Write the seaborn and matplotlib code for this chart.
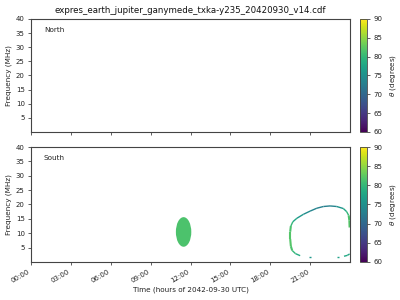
import numpy as np
import matplotlib
matplotlib.use("Agg")
import matplotlib.pyplot as plt
from matplotlib.collections import LineCollection
from matplotlib.patches import Ellipse
import seaborn as sns

# ---------------- data ----------------
title = "expres_earth_jupiter_ganymede_txka-y235_20420930_v14.cdf"
hemispheres = ["North", "South"]
xtick_hours = [0, 3, 6, 9, 12, 15, 18, 21]
xtick_labels = ["00:00", "03:00", "06:00", "09:00", "12:00", "15:00", "18:00", "21:00"]
ytick_freqs = [5, 10, 15, 20, 25, 30, 35, 40]
cbar_ticks = [60, 65, 70, 75, 80, 85, 90]

# South: compact emission blob (centre time h, centre freq MHz, half-width h, half-height MHz, theta deg)
blob_time, blob_freq = 11.48, 10.45
blob_halfwidth, blob_halfheight = 0.58, 5.15
blob_theta = 81.5

# South: arc-shaped emission (time h, freq MHz, theta deg, segment id)
arc_time = [20.25, 19.9, 19.65, 19.55, 19.5, 19.5, 19.55, 19.7, 20.0, 20.5, 21.0, 21.5,
            22.0, 22.5, 23.0, 23.5, 23.75, 23.9, 23.95, 23.97,
            20.9, 21.05,
            23.05, 23.2,
            23.55, 23.8, 23.97]
arc_freq = [2.2, 2.9, 4.0, 5.5, 8.0, 10.5, 12.5, 14.0, 15.2, 16.6, 17.7, 18.7,
            19.3, 19.5, 19.3, 18.6, 17.5, 16.2, 14.5, 12.0,
            1.7, 1.7,
            1.7, 1.7,
            2.0, 2.3, 2.8]
arc_theta = [78, 79, 81, 82, 82, 82, 81, 79, 77, 75, 74, 73,
             73, 73, 74, 77, 79, 81, 82, 82,
             76, 76,
             77, 77,
             78, 78, 78]
arc_seg = [0] * 20 + [1] * 2 + [2] * 2 + [3] * 3

# ---------------- style ----------------
sns.set_theme(style="ticks")
plt.rcParams["font.family"] = ["DejaVu Sans"]
plt.rcParams.update({
    "axes.edgecolor": "#444444",
    "axes.linewidth": 0.8,
    "xtick.color": "#444444",
    "ytick.color": "#444444",
    "xtick.labelcolor": "#222222",
    "ytick.labelcolor": "#222222",
    "xtick.major.size": 2.5,
    "ytick.major.size": 2.5,
    "xtick.major.width": 0.6,
    "ytick.major.width": 0.6,
})

cmap = plt.get_cmap("viridis")
norm = matplotlib.colors.Normalize(vmin=60, vmax=90)

fig = plt.figure(figsize=(4, 3), dpi=100)
ax_top = fig.add_axes([0.0775, 0.56, 0.7975, 0.3767])
ax_bot = fig.add_axes([0.0775, 0.1267, 0.7975, 0.3833])
cax_top = fig.add_axes([0.9, 0.56, 0.0175, 0.3767])
cax_bot = fig.add_axes([0.9, 0.1267, 0.0175, 0.3833])

for ax, name in zip([ax_top, ax_bot], hemispheres):
    ax.set_xlim(0, 24)
    ax.set_ylim(0, 40)
    ax.set_yticks(ytick_freqs)
    ax.set_xticks(xtick_hours)
    ax.tick_params(labelsize=5, pad=2)
    ax.set_ylabel("Frequency (MHz)", fontsize=5.2, labelpad=3, color="#222222")
    ax.text(0.04, 0.9, name, transform=ax.transAxes, fontsize=5.2, color="#222222",
            va="center", ha="left")

ax_top.set_xticklabels([])
ax_bot.set_xticklabels(xtick_labels, rotation=30, ha="right")
ax_bot.set_xlabel("Time (hours of 2042-09-30 UTC)", fontsize=5.2, labelpad=2, color="#222222")
ax_top.set_title(title, fontsize=6.2, pad=4, color="#111111")

# blob
ax_bot.add_patch(Ellipse((blob_time, blob_freq), 2 * blob_halfwidth, 2 * blob_halfheight,
                         facecolor=cmap(norm(blob_theta)), edgecolor="none"))

# arc segments
arc_time_a = np.array(arc_time)
arc_freq_a = np.array(arc_freq)
arc_theta_a = np.array(arc_theta, dtype=float)
arc_seg_a = np.array(arc_seg)
segs, cols, widths = [], [], []
for s in np.unique(arc_seg_a):
    idx = np.where(arc_seg_a == s)[0]
    for i0, i1 in zip(idx[:-1], idx[1:]):
        p0 = (arc_time_a[i0], arc_freq_a[i0])
        p1 = (arc_time_a[i1], arc_freq_a[i1])
        segs.append([p0, p1])
        cols.append(cmap(norm(0.5 * (arc_theta_a[i0] + arc_theta_a[i1]))))
        steep = abs(p1[1] - p0[1]) / 3.0 > abs(p1[0] - p0[0]) / 0.25
        widths.append(1.5 if steep else 1.0)
lc = LineCollection(segs, colors=cols, linewidths=widths, capstyle="butt")
ax_bot.add_collection(lc)

# colorbars
for cax in [cax_top, cax_bot]:
    sm = matplotlib.cm.ScalarMappable(norm=norm, cmap=cmap)
    cb = fig.colorbar(sm, cax=cax, ticks=cbar_ticks)
    cb.outline.set_linewidth(0.6)
    cb.outline.set_edgecolor("#444444")
    cax.tick_params(labelsize=5, length=2.5, width=0.6, pad=2)
    cb.set_label(r"$\theta$ (degrees)", fontsize=5.2, labelpad=4, color="#222222")

fig.savefig("out.png", dpi=100)
